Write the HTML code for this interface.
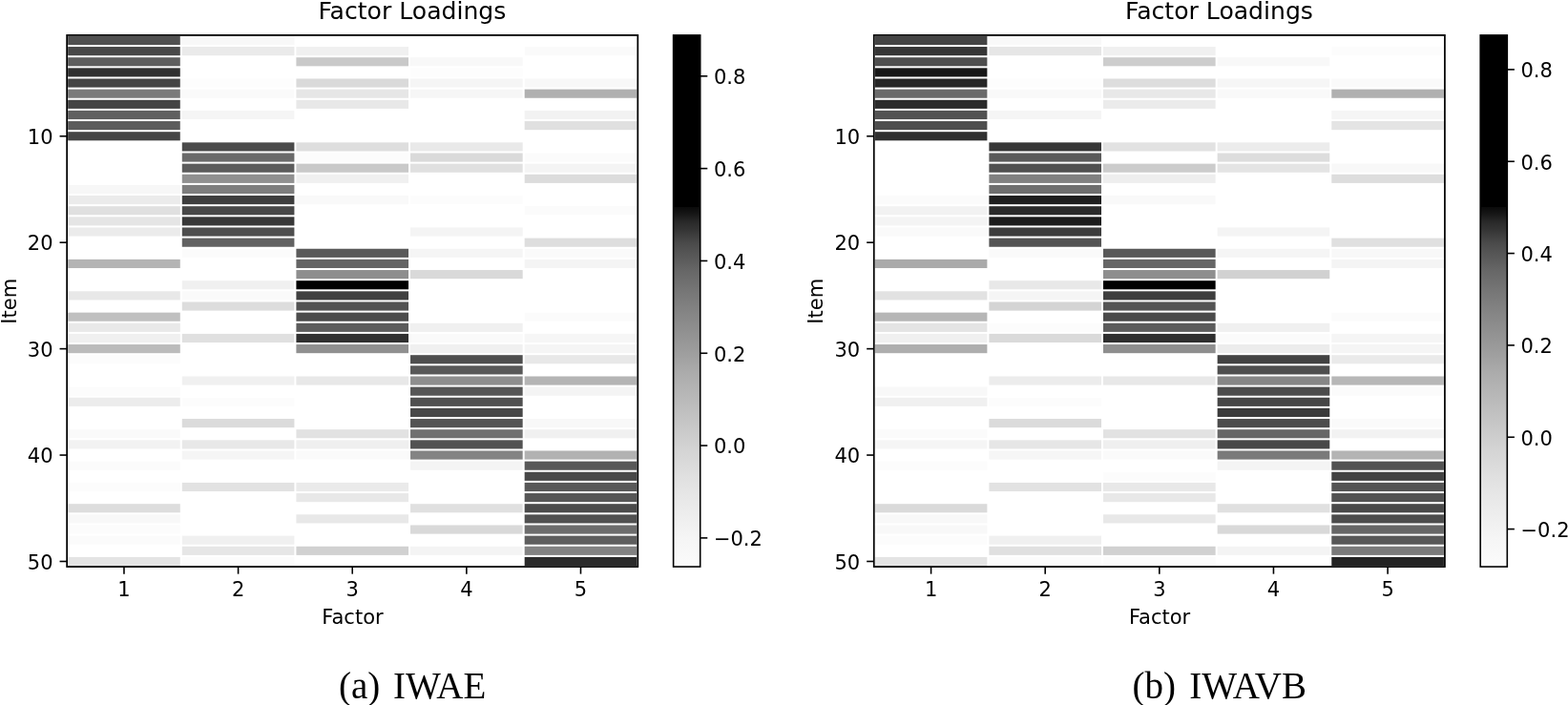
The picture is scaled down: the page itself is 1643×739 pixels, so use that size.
<!DOCTYPE html>
<html><head><meta charset="utf-8"><title>Factor Loadings</title>
<style>
html,body{margin:0;padding:0;background:#fff;}
body{width:1643px;height:739px;overflow:hidden;}
svg{display:block;}
.t{font-family:"DejaVu Sans","Liberation Sans",sans-serif;font-size:21px;fill:#000;}
.ti{font-family:"DejaVu Sans","Liberation Sans",sans-serif;font-size:25.1px;fill:#000;}
.cap{font-family:"Liberation Serif","Times New Roman",serif;font-size:39px;fill:#000;}
</style></head><body>
<svg width="1643" height="739" viewBox="0 0 1643 739">
<defs><linearGradient id="g1" gradientUnits="userSpaceOnUse" x1="0" y1="36.9" x2="0" y2="594.05"><stop offset="0.0000" stop-color="#000000"/><stop offset="0.3227" stop-color="#000000"/><stop offset="0.3234" stop-color="#0a0a0a"/><stop offset="0.3376" stop-color="#181818"/><stop offset="0.3502" stop-color="#282828"/><stop offset="0.3645" stop-color="#333333"/><stop offset="0.3789" stop-color="#404040"/><stop offset="0.3915" stop-color="#4a4a4a"/><stop offset="0.4094" stop-color="#555555"/><stop offset="0.4274" stop-color="#5e5e5e"/><stop offset="0.4417" stop-color="#666666"/><stop offset="0.4812" stop-color="#767676"/><stop offset="0.5171" stop-color="#838383"/><stop offset="0.5440" stop-color="#8c8c8c"/><stop offset="0.5979" stop-color="#9e9e9e"/><stop offset="0.6338" stop-color="#ababab"/><stop offset="0.6697" stop-color="#b5b5b5"/><stop offset="0.7415" stop-color="#c9c9c9"/><stop offset="0.7720" stop-color="#d2d2d2"/><stop offset="0.8312" stop-color="#e0e0e0"/><stop offset="0.8671" stop-color="#e7e7e7"/><stop offset="0.9461" stop-color="#f5f5f5"/><stop offset="0.9999" stop-color="#fbfbfb"/></linearGradient><linearGradient id="g2" gradientUnits="userSpaceOnUse" x1="0" y1="36.9" x2="0" y2="594.05"><stop offset="0.0000" stop-color="#000000"/><stop offset="0.3227" stop-color="#000000"/><stop offset="0.3234" stop-color="#0a0a0a"/><stop offset="0.3376" stop-color="#181818"/><stop offset="0.3502" stop-color="#282828"/><stop offset="0.3645" stop-color="#333333"/><stop offset="0.3789" stop-color="#404040"/><stop offset="0.3915" stop-color="#4a4a4a"/><stop offset="0.4094" stop-color="#555555"/><stop offset="0.4274" stop-color="#5e5e5e"/><stop offset="0.4417" stop-color="#666666"/><stop offset="0.4812" stop-color="#767676"/><stop offset="0.5171" stop-color="#838383"/><stop offset="0.5440" stop-color="#8c8c8c"/><stop offset="0.5979" stop-color="#9e9e9e"/><stop offset="0.6338" stop-color="#ababab"/><stop offset="0.6697" stop-color="#b5b5b5"/><stop offset="0.7415" stop-color="#c9c9c9"/><stop offset="0.7720" stop-color="#d2d2d2"/><stop offset="0.8312" stop-color="#e0e0e0"/><stop offset="0.8671" stop-color="#e7e7e7"/><stop offset="0.9461" stop-color="#f5f5f5"/><stop offset="0.9999" stop-color="#fbfbfb"/></linearGradient></defs>
<rect x="0" y="0" width="1643" height="739" fill="#fff"/>
<rect x="71.15" y="37.90" width="117.63" height="9.14" fill="#505050"/>
<rect x="71.15" y="49.04" width="117.63" height="9.14" fill="#484848"/>
<rect x="71.15" y="60.19" width="117.63" height="9.14" fill="#5e5e5e"/>
<rect x="71.15" y="71.33" width="117.63" height="9.14" fill="#303030"/>
<rect x="71.15" y="82.47" width="117.63" height="9.14" fill="#444444"/>
<rect x="71.15" y="93.61" width="117.63" height="9.14" fill="#7a7a7a"/>
<rect x="71.15" y="104.76" width="117.63" height="9.14" fill="#444444"/>
<rect x="71.15" y="115.90" width="117.63" height="9.14" fill="#606060"/>
<rect x="71.15" y="127.04" width="117.63" height="9.14" fill="#5c5c5c"/>
<rect x="71.15" y="138.19" width="117.63" height="9.14" fill="#454545"/>
<rect x="71.15" y="193.90" width="117.63" height="9.14" fill="#f7f7f7"/>
<rect x="71.15" y="205.04" width="117.63" height="9.14" fill="#ebebeb"/>
<rect x="71.15" y="216.19" width="117.63" height="9.14" fill="#e0e0e0"/>
<rect x="71.15" y="227.33" width="117.63" height="9.14" fill="#e5e5e5"/>
<rect x="71.15" y="238.47" width="117.63" height="9.14" fill="#ebebeb"/>
<rect x="71.15" y="271.90" width="117.63" height="9.14" fill="#b4b4b4"/>
<rect x="71.15" y="305.33" width="117.63" height="9.14" fill="#e8e8e8"/>
<rect x="71.15" y="327.62" width="117.63" height="9.14" fill="#c0c0c0"/>
<rect x="71.15" y="338.76" width="117.63" height="9.14" fill="#e9e9e9"/>
<rect x="71.15" y="349.90" width="117.63" height="9.14" fill="#f0f0f0"/>
<rect x="71.15" y="361.05" width="117.63" height="9.14" fill="#bbbbbb"/>
<rect x="71.15" y="372.19" width="117.63" height="9.14" fill="#fcfcfc"/>
<rect x="71.15" y="405.62" width="117.63" height="9.14" fill="#fcfcfc"/>
<rect x="71.15" y="416.76" width="117.63" height="9.14" fill="#ececec"/>
<rect x="71.15" y="450.19" width="117.63" height="9.14" fill="#fafafa"/>
<rect x="71.15" y="461.33" width="117.63" height="9.14" fill="#f2f2f2"/>
<rect x="71.15" y="483.62" width="117.63" height="9.14" fill="#fbfbfb"/>
<rect x="71.15" y="505.91" width="117.63" height="9.14" fill="#fcfcfc"/>
<rect x="71.15" y="528.19" width="117.63" height="9.14" fill="#dddddd"/>
<rect x="71.15" y="539.33" width="117.63" height="9.14" fill="#f8f8f8"/>
<rect x="71.15" y="550.48" width="117.63" height="9.14" fill="#fcfcfc"/>
<rect x="71.15" y="561.62" width="117.63" height="9.14" fill="#fbfbfb"/>
<rect x="71.15" y="583.91" width="117.63" height="9.14" fill="#e4e4e4"/>
<rect x="190.78" y="37.90" width="117.63" height="9.14" fill="#f8f8f8"/>
<rect x="190.78" y="49.04" width="117.63" height="9.14" fill="#eaeaea"/>
<rect x="190.78" y="82.47" width="117.63" height="9.14" fill="#fdfdfd"/>
<rect x="190.78" y="93.61" width="117.63" height="9.14" fill="#fafafa"/>
<rect x="190.78" y="115.90" width="117.63" height="9.14" fill="#f5f5f5"/>
<rect x="190.78" y="149.33" width="117.63" height="9.14" fill="#4a4a4a"/>
<rect x="190.78" y="160.47" width="117.63" height="9.14" fill="#6a6a6a"/>
<rect x="190.78" y="171.62" width="117.63" height="9.14" fill="#5c5c5c"/>
<rect x="190.78" y="182.76" width="117.63" height="9.14" fill="#909090"/>
<rect x="190.78" y="193.90" width="117.63" height="9.14" fill="#7e7e7e"/>
<rect x="190.78" y="205.04" width="117.63" height="9.14" fill="#3e3e3e"/>
<rect x="190.78" y="216.19" width="117.63" height="9.14" fill="#484848"/>
<rect x="190.78" y="227.33" width="117.63" height="9.14" fill="#383838"/>
<rect x="190.78" y="238.47" width="117.63" height="9.14" fill="#4e4e4e"/>
<rect x="190.78" y="249.62" width="117.63" height="9.14" fill="#626262"/>
<rect x="190.78" y="260.76" width="117.63" height="9.14" fill="#fbfbfb"/>
<rect x="190.78" y="294.19" width="117.63" height="9.14" fill="#f0f0f0"/>
<rect x="190.78" y="305.33" width="117.63" height="9.14" fill="#fafafa"/>
<rect x="190.78" y="316.47" width="117.63" height="9.14" fill="#dddddd"/>
<rect x="190.78" y="349.90" width="117.63" height="9.14" fill="#e0e0e0"/>
<rect x="190.78" y="394.48" width="117.63" height="9.14" fill="#f0f0f0"/>
<rect x="190.78" y="416.76" width="117.63" height="9.14" fill="#fcfcfc"/>
<rect x="190.78" y="439.05" width="117.63" height="9.14" fill="#dbdbdb"/>
<rect x="190.78" y="461.33" width="117.63" height="9.14" fill="#e8e8e8"/>
<rect x="190.78" y="472.48" width="117.63" height="9.14" fill="#f5f5f5"/>
<rect x="190.78" y="505.91" width="117.63" height="9.14" fill="#e2e2e2"/>
<rect x="190.78" y="561.62" width="117.63" height="9.14" fill="#f0f0f0"/>
<rect x="190.78" y="572.76" width="117.63" height="9.14" fill="#e6e6e6"/>
<rect x="190.78" y="583.91" width="117.63" height="9.14" fill="#fcfcfc"/>
<rect x="310.41" y="49.04" width="117.63" height="9.14" fill="#f0f0f0"/>
<rect x="310.41" y="60.19" width="117.63" height="9.14" fill="#c9c9c9"/>
<rect x="310.41" y="82.47" width="117.63" height="9.14" fill="#dadada"/>
<rect x="310.41" y="93.61" width="117.63" height="9.14" fill="#e6e6e6"/>
<rect x="310.41" y="104.76" width="117.63" height="9.14" fill="#e8e8e8"/>
<rect x="310.41" y="149.33" width="117.63" height="9.14" fill="#dedede"/>
<rect x="310.41" y="160.47" width="117.63" height="9.14" fill="#fcfcfc"/>
<rect x="310.41" y="171.62" width="117.63" height="9.14" fill="#c9c9c9"/>
<rect x="310.41" y="182.76" width="117.63" height="9.14" fill="#f0f0f0"/>
<rect x="310.41" y="205.04" width="117.63" height="9.14" fill="#f9f9f9"/>
<rect x="310.41" y="260.76" width="117.63" height="9.14" fill="#5a5a5a"/>
<rect x="310.41" y="271.90" width="117.63" height="9.14" fill="#646464"/>
<rect x="310.41" y="283.05" width="117.63" height="9.14" fill="#8e8e8e"/>
<rect x="310.41" y="294.19" width="117.63" height="9.14" fill="#000000"/>
<rect x="310.41" y="305.33" width="117.63" height="9.14" fill="#404040"/>
<rect x="310.41" y="316.47" width="117.63" height="9.14" fill="#525252"/>
<rect x="310.41" y="327.62" width="117.63" height="9.14" fill="#4c4c4c"/>
<rect x="310.41" y="338.76" width="117.63" height="9.14" fill="#5c5c5c"/>
<rect x="310.41" y="349.90" width="117.63" height="9.14" fill="#303030"/>
<rect x="310.41" y="361.05" width="117.63" height="9.14" fill="#909090"/>
<rect x="310.41" y="394.48" width="117.63" height="9.14" fill="#e8e8e8"/>
<rect x="310.41" y="450.19" width="117.63" height="9.14" fill="#e2e2e2"/>
<rect x="310.41" y="461.33" width="117.63" height="9.14" fill="#efefef"/>
<rect x="310.41" y="472.48" width="117.63" height="9.14" fill="#fafafa"/>
<rect x="310.41" y="505.91" width="117.63" height="9.14" fill="#eaeaea"/>
<rect x="310.41" y="517.05" width="117.63" height="9.14" fill="#e8e8e8"/>
<rect x="310.41" y="539.33" width="117.63" height="9.14" fill="#e8e8e8"/>
<rect x="310.41" y="572.76" width="117.63" height="9.14" fill="#d1d1d1"/>
<rect x="430.04" y="60.19" width="117.63" height="9.14" fill="#f8f8f8"/>
<rect x="430.04" y="71.33" width="117.63" height="9.14" fill="#fdfdfd"/>
<rect x="430.04" y="82.47" width="117.63" height="9.14" fill="#f5f5f5"/>
<rect x="430.04" y="93.61" width="117.63" height="9.14" fill="#f6f6f6"/>
<rect x="430.04" y="149.33" width="117.63" height="9.14" fill="#e9e9e9"/>
<rect x="430.04" y="160.47" width="117.63" height="9.14" fill="#dadada"/>
<rect x="430.04" y="171.62" width="117.63" height="9.14" fill="#e0e0e0"/>
<rect x="430.04" y="205.04" width="117.63" height="9.14" fill="#fcfcfc"/>
<rect x="430.04" y="238.47" width="117.63" height="9.14" fill="#f4f4f4"/>
<rect x="430.04" y="260.76" width="117.63" height="9.14" fill="#f5f5f5"/>
<rect x="430.04" y="283.05" width="117.63" height="9.14" fill="#d9d9d9"/>
<rect x="430.04" y="338.76" width="117.63" height="9.14" fill="#f0f0f0"/>
<rect x="430.04" y="349.90" width="117.63" height="9.14" fill="#fafafa"/>
<rect x="430.04" y="361.05" width="117.63" height="9.14" fill="#f0f0f0"/>
<rect x="430.04" y="372.19" width="117.63" height="9.14" fill="#4e4e4e"/>
<rect x="430.04" y="383.33" width="117.63" height="9.14" fill="#585858"/>
<rect x="430.04" y="394.48" width="117.63" height="9.14" fill="#8e8e8e"/>
<rect x="430.04" y="405.62" width="117.63" height="9.14" fill="#565656"/>
<rect x="430.04" y="416.76" width="117.63" height="9.14" fill="#505050"/>
<rect x="430.04" y="427.90" width="117.63" height="9.14" fill="#484848"/>
<rect x="430.04" y="439.05" width="117.63" height="9.14" fill="#545454"/>
<rect x="430.04" y="450.19" width="117.63" height="9.14" fill="#707070"/>
<rect x="430.04" y="461.33" width="117.63" height="9.14" fill="#525252"/>
<rect x="430.04" y="472.48" width="117.63" height="9.14" fill="#848484"/>
<rect x="430.04" y="483.62" width="117.63" height="9.14" fill="#f4f4f4"/>
<rect x="430.04" y="528.19" width="117.63" height="9.14" fill="#e0e0e0"/>
<rect x="430.04" y="550.48" width="117.63" height="9.14" fill="#d9d9d9"/>
<rect x="430.04" y="572.76" width="117.63" height="9.14" fill="#f4f4f4"/>
<rect x="549.67" y="49.04" width="117.63" height="9.14" fill="#fafafa"/>
<rect x="549.67" y="82.47" width="117.63" height="9.14" fill="#f8f8f8"/>
<rect x="549.67" y="93.61" width="117.63" height="9.14" fill="#b0b0b0"/>
<rect x="549.67" y="115.90" width="117.63" height="9.14" fill="#f2f2f2"/>
<rect x="549.67" y="127.04" width="117.63" height="9.14" fill="#e0e0e0"/>
<rect x="549.67" y="160.47" width="117.63" height="9.14" fill="#fbfbfb"/>
<rect x="549.67" y="171.62" width="117.63" height="9.14" fill="#f4f4f4"/>
<rect x="549.67" y="182.76" width="117.63" height="9.14" fill="#dcdcdc"/>
<rect x="549.67" y="216.19" width="117.63" height="9.14" fill="#fbfbfb"/>
<rect x="549.67" y="249.62" width="117.63" height="9.14" fill="#dedede"/>
<rect x="549.67" y="260.76" width="117.63" height="9.14" fill="#fafafa"/>
<rect x="549.67" y="271.90" width="117.63" height="9.14" fill="#f4f4f4"/>
<rect x="549.67" y="327.62" width="117.63" height="9.14" fill="#fbfbfb"/>
<rect x="549.67" y="349.90" width="117.63" height="9.14" fill="#f6f6f6"/>
<rect x="549.67" y="361.05" width="117.63" height="9.14" fill="#f5f5f5"/>
<rect x="549.67" y="372.19" width="117.63" height="9.14" fill="#e8e8e8"/>
<rect x="549.67" y="394.48" width="117.63" height="9.14" fill="#b4b4b4"/>
<rect x="549.67" y="405.62" width="117.63" height="9.14" fill="#f4f4f4"/>
<rect x="549.67" y="439.05" width="117.63" height="9.14" fill="#f8f8f8"/>
<rect x="549.67" y="450.19" width="117.63" height="9.14" fill="#f0f0f0"/>
<rect x="549.67" y="472.48" width="117.63" height="9.14" fill="#b2b2b2"/>
<rect x="549.67" y="483.62" width="117.63" height="9.14" fill="#585858"/>
<rect x="549.67" y="494.76" width="117.63" height="9.14" fill="#484848"/>
<rect x="549.67" y="505.91" width="117.63" height="9.14" fill="#585858"/>
<rect x="549.67" y="517.05" width="117.63" height="9.14" fill="#565656"/>
<rect x="549.67" y="528.19" width="117.63" height="9.14" fill="#4a4a4a"/>
<rect x="549.67" y="539.33" width="117.63" height="9.14" fill="#505050"/>
<rect x="549.67" y="550.48" width="117.63" height="9.14" fill="#6c6c6c"/>
<rect x="549.67" y="561.62" width="117.63" height="9.14" fill="#5e5e5e"/>
<rect x="549.67" y="572.76" width="117.63" height="9.14" fill="#828282"/>
<rect x="549.67" y="583.91" width="117.63" height="9.14" fill="#2a2a2a"/>
<rect x="70.15" y="36.9" width="598.15" height="557.15" fill="none" stroke="#000" stroke-width="1.75"/>
<line x1="62.55" y1="142.76" x2="70.15" y2="142.76" stroke="#000" stroke-width="1.6"/>
<text x="55.55" y="151.06" text-anchor="end" class="t">10</text>
<line x1="62.55" y1="254.19" x2="70.15" y2="254.19" stroke="#000" stroke-width="1.6"/>
<text x="55.55" y="262.49" text-anchor="end" class="t">20</text>
<line x1="62.55" y1="365.62" x2="70.15" y2="365.62" stroke="#000" stroke-width="1.6"/>
<text x="55.55" y="373.92" text-anchor="end" class="t">30</text>
<line x1="62.55" y1="477.05" x2="70.15" y2="477.05" stroke="#000" stroke-width="1.6"/>
<text x="55.55" y="485.35" text-anchor="end" class="t">40</text>
<line x1="62.55" y1="588.48" x2="70.15" y2="588.48" stroke="#000" stroke-width="1.6"/>
<text x="55.55" y="596.78" text-anchor="end" class="t">50</text>
<line x1="129.97" y1="594.05" x2="129.97" y2="601.65" stroke="#000" stroke-width="1.6"/>
<text x="129.97" y="625.2" text-anchor="middle" class="t">1</text>
<line x1="249.59" y1="594.05" x2="249.59" y2="601.65" stroke="#000" stroke-width="1.6"/>
<text x="249.59" y="625.2" text-anchor="middle" class="t">2</text>
<line x1="369.23" y1="594.05" x2="369.23" y2="601.65" stroke="#000" stroke-width="1.6"/>
<text x="369.23" y="625.2" text-anchor="middle" class="t">3</text>
<line x1="488.86" y1="594.05" x2="488.86" y2="601.65" stroke="#000" stroke-width="1.6"/>
<text x="488.86" y="625.2" text-anchor="middle" class="t">4</text>
<line x1="608.49" y1="594.05" x2="608.49" y2="601.65" stroke="#000" stroke-width="1.6"/>
<text x="608.49" y="625.2" text-anchor="middle" class="t">5</text>
<text x="369.50" y="654.2" text-anchor="middle" class="t">Factor</text>
<text transform="translate(16.60,315.8) rotate(-90)" x="0" y="0" text-anchor="middle" class="t">Item</text>
<text x="431.90" y="20.4" text-anchor="middle" class="ti">Factor Loadings</text>
<rect x="705.60" y="36.90" width="28.10" height="557.15" fill="url(#g1)" stroke="#000" stroke-width="1.6"/>
<line x1="733.70" y1="79.80" x2="741.30" y2="79.80" stroke="#000" stroke-width="1.6"/>
<text x="747.90" y="88.20" class="t">0.8</text>
<line x1="733.70" y1="176.62" x2="741.30" y2="176.62" stroke="#000" stroke-width="1.6"/>
<text x="747.90" y="185.02" class="t">0.6</text>
<line x1="733.70" y1="273.44" x2="741.30" y2="273.44" stroke="#000" stroke-width="1.6"/>
<text x="747.90" y="281.84" class="t">0.4</text>
<line x1="733.70" y1="370.26" x2="741.30" y2="370.26" stroke="#000" stroke-width="1.6"/>
<text x="747.90" y="378.66" class="t">0.2</text>
<line x1="733.70" y1="467.08" x2="741.30" y2="467.08" stroke="#000" stroke-width="1.6"/>
<text x="747.90" y="475.48" class="t">0.0</text>
<line x1="733.70" y1="563.90" x2="741.30" y2="563.90" stroke="#000" stroke-width="1.6"/>
<text x="747.90" y="572.30" class="t">−0.2</text>
<text x="355.00" y="732.2" class="cap">(a)</text>
<text x="411.90" y="732.2" class="cap">IWAE</text>
<rect x="916.75" y="37.90" width="117.63" height="9.14" fill="#444444"/>
<rect x="916.75" y="49.04" width="117.63" height="9.14" fill="#363636"/>
<rect x="916.75" y="60.19" width="117.63" height="9.14" fill="#4e4e4e"/>
<rect x="916.75" y="71.33" width="117.63" height="9.14" fill="#171717"/>
<rect x="916.75" y="82.47" width="117.63" height="9.14" fill="#262626"/>
<rect x="916.75" y="93.61" width="117.63" height="9.14" fill="#6a6a6a"/>
<rect x="916.75" y="104.76" width="117.63" height="9.14" fill="#2a2a2a"/>
<rect x="916.75" y="115.90" width="117.63" height="9.14" fill="#525252"/>
<rect x="916.75" y="127.04" width="117.63" height="9.14" fill="#4e4e4e"/>
<rect x="916.75" y="138.19" width="117.63" height="9.14" fill="#303030"/>
<rect x="916.75" y="205.04" width="117.63" height="9.14" fill="#fbfbfb"/>
<rect x="916.75" y="216.19" width="117.63" height="9.14" fill="#f2f2f2"/>
<rect x="916.75" y="227.33" width="117.63" height="9.14" fill="#f4f4f4"/>
<rect x="916.75" y="238.47" width="117.63" height="9.14" fill="#fafafa"/>
<rect x="916.75" y="271.90" width="117.63" height="9.14" fill="#aaaaaa"/>
<rect x="916.75" y="305.33" width="117.63" height="9.14" fill="#e2e2e2"/>
<rect x="916.75" y="327.62" width="117.63" height="9.14" fill="#b6b6b6"/>
<rect x="916.75" y="338.76" width="117.63" height="9.14" fill="#e4e4e4"/>
<rect x="916.75" y="349.90" width="117.63" height="9.14" fill="#f0f0f0"/>
<rect x="916.75" y="361.05" width="117.63" height="9.14" fill="#aeaeae"/>
<rect x="916.75" y="405.62" width="117.63" height="9.14" fill="#f8f8f8"/>
<rect x="916.75" y="416.76" width="117.63" height="9.14" fill="#f0f0f0"/>
<rect x="916.75" y="450.19" width="117.63" height="9.14" fill="#fbfbfb"/>
<rect x="916.75" y="461.33" width="117.63" height="9.14" fill="#f5f5f5"/>
<rect x="916.75" y="483.62" width="117.63" height="9.14" fill="#fcfcfc"/>
<rect x="916.75" y="528.19" width="117.63" height="9.14" fill="#dadada"/>
<rect x="916.75" y="539.33" width="117.63" height="9.14" fill="#f8f8f8"/>
<rect x="916.75" y="550.48" width="117.63" height="9.14" fill="#f8f8f8"/>
<rect x="916.75" y="561.62" width="117.63" height="9.14" fill="#fcfcfc"/>
<rect x="916.75" y="583.91" width="117.63" height="9.14" fill="#e4e4e4"/>
<rect x="1036.38" y="37.90" width="117.63" height="9.14" fill="#f9f9f9"/>
<rect x="1036.38" y="49.04" width="117.63" height="9.14" fill="#e6e6e6"/>
<rect x="1036.38" y="82.47" width="117.63" height="9.14" fill="#fdfdfd"/>
<rect x="1036.38" y="93.61" width="117.63" height="9.14" fill="#f9f9f9"/>
<rect x="1036.38" y="115.90" width="117.63" height="9.14" fill="#f5f5f5"/>
<rect x="1036.38" y="149.33" width="117.63" height="9.14" fill="#363636"/>
<rect x="1036.38" y="160.47" width="117.63" height="9.14" fill="#5a5a5a"/>
<rect x="1036.38" y="171.62" width="117.63" height="9.14" fill="#505050"/>
<rect x="1036.38" y="182.76" width="117.63" height="9.14" fill="#808080"/>
<rect x="1036.38" y="193.90" width="117.63" height="9.14" fill="#6e6e6e"/>
<rect x="1036.38" y="205.04" width="117.63" height="9.14" fill="#1e1e1e"/>
<rect x="1036.38" y="216.19" width="117.63" height="9.14" fill="#2a2a2a"/>
<rect x="1036.38" y="227.33" width="117.63" height="9.14" fill="#1c1c1c"/>
<rect x="1036.38" y="238.47" width="117.63" height="9.14" fill="#3c3c3c"/>
<rect x="1036.38" y="249.62" width="117.63" height="9.14" fill="#545454"/>
<rect x="1036.38" y="260.76" width="117.63" height="9.14" fill="#fafafa"/>
<rect x="1036.38" y="294.19" width="117.63" height="9.14" fill="#e8e8e8"/>
<rect x="1036.38" y="305.33" width="117.63" height="9.14" fill="#f5f5f5"/>
<rect x="1036.38" y="316.47" width="117.63" height="9.14" fill="#d4d4d4"/>
<rect x="1036.38" y="338.76" width="117.63" height="9.14" fill="#fcfcfc"/>
<rect x="1036.38" y="349.90" width="117.63" height="9.14" fill="#dadada"/>
<rect x="1036.38" y="394.48" width="117.63" height="9.14" fill="#ececec"/>
<rect x="1036.38" y="416.76" width="117.63" height="9.14" fill="#fcfcfc"/>
<rect x="1036.38" y="439.05" width="117.63" height="9.14" fill="#dbdbdb"/>
<rect x="1036.38" y="461.33" width="117.63" height="9.14" fill="#e6e6e6"/>
<rect x="1036.38" y="472.48" width="117.63" height="9.14" fill="#f6f6f6"/>
<rect x="1036.38" y="505.91" width="117.63" height="9.14" fill="#e2e2e2"/>
<rect x="1036.38" y="561.62" width="117.63" height="9.14" fill="#f0f0f0"/>
<rect x="1036.38" y="572.76" width="117.63" height="9.14" fill="#e0e0e0"/>
<rect x="1036.38" y="583.91" width="117.63" height="9.14" fill="#fcfcfc"/>
<rect x="1156.01" y="49.04" width="117.63" height="9.14" fill="#f0f0f0"/>
<rect x="1156.01" y="60.19" width="117.63" height="9.14" fill="#cdcdcd"/>
<rect x="1156.01" y="82.47" width="117.63" height="9.14" fill="#dddddd"/>
<rect x="1156.01" y="93.61" width="117.63" height="9.14" fill="#e8e8e8"/>
<rect x="1156.01" y="104.76" width="117.63" height="9.14" fill="#ebebeb"/>
<rect x="1156.01" y="149.33" width="117.63" height="9.14" fill="#e2e2e2"/>
<rect x="1156.01" y="171.62" width="117.63" height="9.14" fill="#cccccc"/>
<rect x="1156.01" y="182.76" width="117.63" height="9.14" fill="#eeeeee"/>
<rect x="1156.01" y="205.04" width="117.63" height="9.14" fill="#f9f9f9"/>
<rect x="1156.01" y="260.76" width="117.63" height="9.14" fill="#585858"/>
<rect x="1156.01" y="271.90" width="117.63" height="9.14" fill="#666666"/>
<rect x="1156.01" y="283.05" width="117.63" height="9.14" fill="#8e8e8e"/>
<rect x="1156.01" y="294.19" width="117.63" height="9.14" fill="#000000"/>
<rect x="1156.01" y="305.33" width="117.63" height="9.14" fill="#3e3e3e"/>
<rect x="1156.01" y="316.47" width="117.63" height="9.14" fill="#545454"/>
<rect x="1156.01" y="327.62" width="117.63" height="9.14" fill="#4a4a4a"/>
<rect x="1156.01" y="338.76" width="117.63" height="9.14" fill="#5c5c5c"/>
<rect x="1156.01" y="349.90" width="117.63" height="9.14" fill="#2e2e2e"/>
<rect x="1156.01" y="361.05" width="117.63" height="9.14" fill="#8e8e8e"/>
<rect x="1156.01" y="394.48" width="117.63" height="9.14" fill="#e8e8e8"/>
<rect x="1156.01" y="450.19" width="117.63" height="9.14" fill="#e2e2e2"/>
<rect x="1156.01" y="461.33" width="117.63" height="9.14" fill="#efefef"/>
<rect x="1156.01" y="472.48" width="117.63" height="9.14" fill="#fafafa"/>
<rect x="1156.01" y="494.76" width="117.63" height="9.14" fill="#fcfcfc"/>
<rect x="1156.01" y="505.91" width="117.63" height="9.14" fill="#e8e8e8"/>
<rect x="1156.01" y="517.05" width="117.63" height="9.14" fill="#e8e8e8"/>
<rect x="1156.01" y="539.33" width="117.63" height="9.14" fill="#e8e8e8"/>
<rect x="1156.01" y="572.76" width="117.63" height="9.14" fill="#d1d1d1"/>
<rect x="1156.01" y="583.91" width="117.63" height="9.14" fill="#fcfcfc"/>
<rect x="1275.64" y="60.19" width="117.63" height="9.14" fill="#f8f8f8"/>
<rect x="1275.64" y="82.47" width="117.63" height="9.14" fill="#f6f6f6"/>
<rect x="1275.64" y="93.61" width="117.63" height="9.14" fill="#f9f9f9"/>
<rect x="1275.64" y="149.33" width="117.63" height="9.14" fill="#ececec"/>
<rect x="1275.64" y="160.47" width="117.63" height="9.14" fill="#dddddd"/>
<rect x="1275.64" y="171.62" width="117.63" height="9.14" fill="#e4e4e4"/>
<rect x="1275.64" y="238.47" width="117.63" height="9.14" fill="#f4f4f4"/>
<rect x="1275.64" y="260.76" width="117.63" height="9.14" fill="#f5f5f5"/>
<rect x="1275.64" y="283.05" width="117.63" height="9.14" fill="#d1d1d1"/>
<rect x="1275.64" y="338.76" width="117.63" height="9.14" fill="#f0f0f0"/>
<rect x="1275.64" y="349.90" width="117.63" height="9.14" fill="#fbfbfb"/>
<rect x="1275.64" y="361.05" width="117.63" height="9.14" fill="#ececec"/>
<rect x="1275.64" y="372.19" width="117.63" height="9.14" fill="#424242"/>
<rect x="1275.64" y="383.33" width="117.63" height="9.14" fill="#4e4e4e"/>
<rect x="1275.64" y="394.48" width="117.63" height="9.14" fill="#868686"/>
<rect x="1275.64" y="405.62" width="117.63" height="9.14" fill="#4c4c4c"/>
<rect x="1275.64" y="416.76" width="117.63" height="9.14" fill="#464646"/>
<rect x="1275.64" y="427.90" width="117.63" height="9.14" fill="#3a3a3a"/>
<rect x="1275.64" y="439.05" width="117.63" height="9.14" fill="#4c4c4c"/>
<rect x="1275.64" y="450.19" width="117.63" height="9.14" fill="#666666"/>
<rect x="1275.64" y="461.33" width="117.63" height="9.14" fill="#484848"/>
<rect x="1275.64" y="472.48" width="117.63" height="9.14" fill="#7a7a7a"/>
<rect x="1275.64" y="483.62" width="117.63" height="9.14" fill="#f4f4f4"/>
<rect x="1275.64" y="528.19" width="117.63" height="9.14" fill="#e0e0e0"/>
<rect x="1275.64" y="550.48" width="117.63" height="9.14" fill="#d9d9d9"/>
<rect x="1275.64" y="572.76" width="117.63" height="9.14" fill="#f4f4f4"/>
<rect x="1395.27" y="49.04" width="117.63" height="9.14" fill="#fcfcfc"/>
<rect x="1395.27" y="82.47" width="117.63" height="9.14" fill="#fafafa"/>
<rect x="1395.27" y="93.61" width="117.63" height="9.14" fill="#b0b0b0"/>
<rect x="1395.27" y="115.90" width="117.63" height="9.14" fill="#f5f5f5"/>
<rect x="1395.27" y="127.04" width="117.63" height="9.14" fill="#e4e4e4"/>
<rect x="1395.27" y="171.62" width="117.63" height="9.14" fill="#f8f8f8"/>
<rect x="1395.27" y="182.76" width="117.63" height="9.14" fill="#dddddd"/>
<rect x="1395.27" y="249.62" width="117.63" height="9.14" fill="#e0e0e0"/>
<rect x="1395.27" y="260.76" width="117.63" height="9.14" fill="#f8f8f8"/>
<rect x="1395.27" y="271.90" width="117.63" height="9.14" fill="#f4f4f4"/>
<rect x="1395.27" y="327.62" width="117.63" height="9.14" fill="#fbfbfb"/>
<rect x="1395.27" y="349.90" width="117.63" height="9.14" fill="#f5f5f5"/>
<rect x="1395.27" y="361.05" width="117.63" height="9.14" fill="#f5f5f5"/>
<rect x="1395.27" y="372.19" width="117.63" height="9.14" fill="#eaeaea"/>
<rect x="1395.27" y="394.48" width="117.63" height="9.14" fill="#b7b7b7"/>
<rect x="1395.27" y="405.62" width="117.63" height="9.14" fill="#fbfbfb"/>
<rect x="1395.27" y="439.05" width="117.63" height="9.14" fill="#fafafa"/>
<rect x="1395.27" y="450.19" width="117.63" height="9.14" fill="#f2f2f2"/>
<rect x="1395.27" y="472.48" width="117.63" height="9.14" fill="#b4b4b4"/>
<rect x="1395.27" y="483.62" width="117.63" height="9.14" fill="#525252"/>
<rect x="1395.27" y="494.76" width="117.63" height="9.14" fill="#424242"/>
<rect x="1395.27" y="505.91" width="117.63" height="9.14" fill="#545454"/>
<rect x="1395.27" y="517.05" width="117.63" height="9.14" fill="#525252"/>
<rect x="1395.27" y="528.19" width="117.63" height="9.14" fill="#484848"/>
<rect x="1395.27" y="539.33" width="117.63" height="9.14" fill="#4c4c4c"/>
<rect x="1395.27" y="550.48" width="117.63" height="9.14" fill="#666666"/>
<rect x="1395.27" y="561.62" width="117.63" height="9.14" fill="#585858"/>
<rect x="1395.27" y="572.76" width="117.63" height="9.14" fill="#7a7a7a"/>
<rect x="1395.27" y="583.91" width="117.63" height="9.14" fill="#222222"/>
<rect x="915.75" y="36.9" width="598.15" height="557.15" fill="none" stroke="#000" stroke-width="1.75"/>
<line x1="908.15" y1="142.76" x2="915.75" y2="142.76" stroke="#000" stroke-width="1.6"/>
<text x="901.15" y="151.06" text-anchor="end" class="t">10</text>
<line x1="908.15" y1="254.19" x2="915.75" y2="254.19" stroke="#000" stroke-width="1.6"/>
<text x="901.15" y="262.49" text-anchor="end" class="t">20</text>
<line x1="908.15" y1="365.62" x2="915.75" y2="365.62" stroke="#000" stroke-width="1.6"/>
<text x="901.15" y="373.92" text-anchor="end" class="t">30</text>
<line x1="908.15" y1="477.05" x2="915.75" y2="477.05" stroke="#000" stroke-width="1.6"/>
<text x="901.15" y="485.35" text-anchor="end" class="t">40</text>
<line x1="908.15" y1="588.48" x2="915.75" y2="588.48" stroke="#000" stroke-width="1.6"/>
<text x="901.15" y="596.78" text-anchor="end" class="t">50</text>
<line x1="975.57" y1="594.05" x2="975.57" y2="601.65" stroke="#000" stroke-width="1.6"/>
<text x="975.57" y="625.2" text-anchor="middle" class="t">1</text>
<line x1="1095.19" y1="594.05" x2="1095.19" y2="601.65" stroke="#000" stroke-width="1.6"/>
<text x="1095.19" y="625.2" text-anchor="middle" class="t">2</text>
<line x1="1214.83" y1="594.05" x2="1214.83" y2="601.65" stroke="#000" stroke-width="1.6"/>
<text x="1214.83" y="625.2" text-anchor="middle" class="t">3</text>
<line x1="1334.45" y1="594.05" x2="1334.45" y2="601.65" stroke="#000" stroke-width="1.6"/>
<text x="1334.45" y="625.2" text-anchor="middle" class="t">4</text>
<line x1="1454.09" y1="594.05" x2="1454.09" y2="601.65" stroke="#000" stroke-width="1.6"/>
<text x="1454.09" y="625.2" text-anchor="middle" class="t">5</text>
<text x="1215.10" y="654.2" text-anchor="middle" class="t">Factor</text>
<text transform="translate(862.20,315.8) rotate(-90)" x="0" y="0" text-anchor="middle" class="t">Item</text>
<text x="1277.50" y="20.4" text-anchor="middle" class="ti">Factor Loadings</text>
<rect x="1551.20" y="36.90" width="28.10" height="557.15" fill="url(#g2)" stroke="#000" stroke-width="1.6"/>
<line x1="1579.30" y1="72.90" x2="1586.90" y2="72.90" stroke="#000" stroke-width="1.6"/>
<text x="1593.50" y="81.30" class="t">0.8</text>
<line x1="1579.30" y1="169.24" x2="1586.90" y2="169.24" stroke="#000" stroke-width="1.6"/>
<text x="1593.50" y="177.64" class="t">0.6</text>
<line x1="1579.30" y1="265.58" x2="1586.90" y2="265.58" stroke="#000" stroke-width="1.6"/>
<text x="1593.50" y="273.98" class="t">0.4</text>
<line x1="1579.30" y1="361.92" x2="1586.90" y2="361.92" stroke="#000" stroke-width="1.6"/>
<text x="1593.50" y="370.32" class="t">0.2</text>
<line x1="1579.30" y1="458.26" x2="1586.90" y2="458.26" stroke="#000" stroke-width="1.6"/>
<text x="1593.50" y="466.66" class="t">0.0</text>
<line x1="1579.30" y1="554.60" x2="1586.90" y2="554.60" stroke="#000" stroke-width="1.6"/>
<text x="1593.50" y="563.00" class="t">−0.2</text>
<text x="1186.60" y="732.2" class="cap">(b)</text>
<text x="1246.20" y="732.2" class="cap">IWAVB</text>
</svg>
</body></html>
